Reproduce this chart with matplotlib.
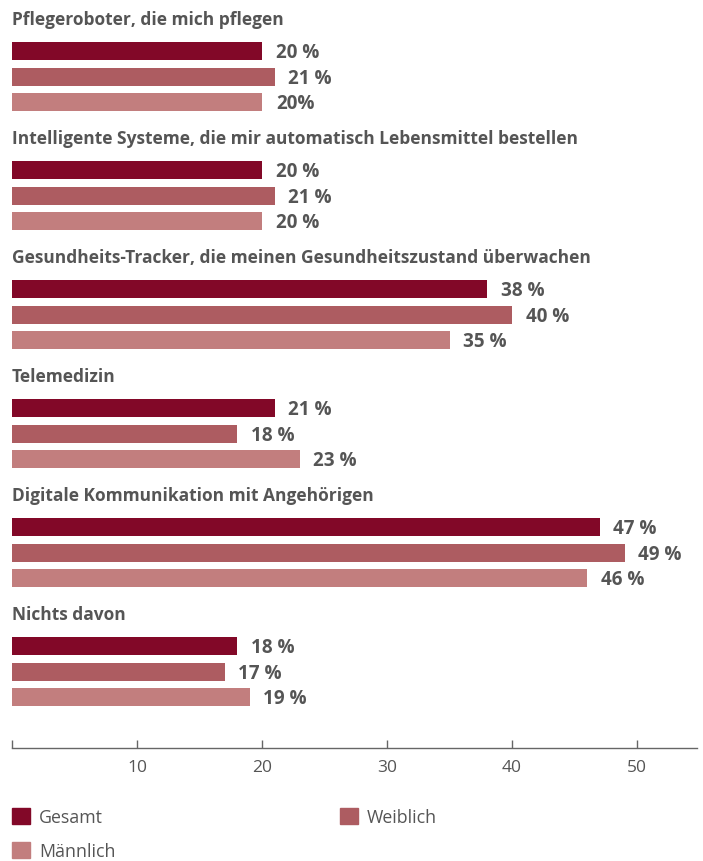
import matplotlib
matplotlib.use("Agg")
import matplotlib.pyplot as plt
from matplotlib.patches import Rectangle

# Survey answers (percent) per category
categories = [
    "Pflegeroboter, die mich pflegen",
    "Intelligente Systeme, die mir automatisch Lebensmittel bestellen",
    "Gesundheits-Tracker, die meinen Gesundheitszustand überwachen",
    "Telemedizin",
    "Digitale Kommunikation mit Angehörigen",
    "Nichts davon",
]
gesamt = [20, 20, 38, 21, 47, 18]
weiblich = [21, 21, 40, 18, 49, 17]
maennlich = [20, 20, 35, 23, 46, 19]
series_names = ["Gesamt", "Weiblich", "Männlich"]
colors = ["#820828", "#AD5C61", "#C27E7E"]
# value labels as printed (one label lacks the space before %)
label_overrides = {(0, 2): "20%"}
x_ticks = [0, 10, 20, 30, 40, 50]

TEXT = "#555555"
FONT = "Open Sans"

W, H = 703, 861
fig = plt.figure(figsize=(W / 100, H / 100), dpi=100)
axis_y = 748
ax = fig.add_axes([12 / W, (H - axis_y) / H, (697 - 12) / W, axis_y / H])
ax.set_xlim(0, (697 - 12) / 12.5)
ax.set_ylim(axis_y, 0)

group_gap = 119
bar_gap = 25.5
bar_h = 18
first_bar = 51

series = [gesamt, weiblich, maennlich]
for i, cat in enumerate(categories):
    gy = first_bar + i * group_gap
    ax.text(0, gy - 31, cat, ha="left", va="center", fontsize=12.5,
            fontweight="bold", color=TEXT, family=FONT)
    for j, vals in enumerate(series):
        y = gy + j * bar_gap
        v = vals[i]
        ax.barh(y, v, height=bar_h, color=colors[j], align="center")
        lab = label_overrides.get((i, j), f"{v} %")
        ax.annotate(lab, (v, y), xytext=(10, -1.5), textcoords="offset points",
                    ha="left", va="center", fontsize=13.6, fontweight="bold",
                    color=TEXT, family=FONT)

for s in ["top", "right", "left"]:
    ax.spines[s].set_visible(False)
ax.spines["bottom"].set_color("#666666")
ax.spines["bottom"].set_linewidth(1.0)
ax.set_yticks([])
ax.set_xticks(x_ticks)
ax.set_xticklabels([""] + [str(t) for t in x_ticks[1:]])
ax.tick_params(axis="x", direction="in", length=6, width=1.0, color="#666666",
               labelcolor=TEXT, labelsize=12.5, pad=9)
for t in ax.get_xticklabels():
    t.set_family(FONT)

# legend
legend_items = [(12, 816, 0), (340, 816, 1), (12, 850, 2)]
for x, y, k in legend_items:
    fig.patches.append(Rectangle((x / W, (H - y - 8) / H), 18 / W, 16 / H,
                                 transform=fig.transFigure, color=colors[k]))
    fig.text((x + 27) / W, (H - y - 2) / H, series_names[k], ha="left",
             va="center", fontsize=12.8, color=TEXT, family=FONT)

fig.savefig("out.png", dpi=100)
